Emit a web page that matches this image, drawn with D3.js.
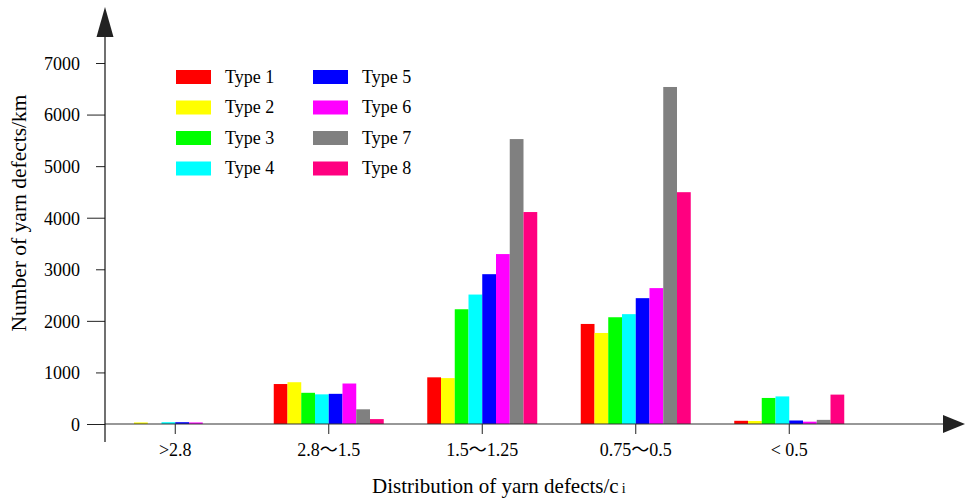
<!DOCTYPE html>
<html>
<head>
<meta charset="utf-8">
<script src="https://cdn.jsdelivr.net/npm/d3@7"></script>
<style>
body { margin: 0; background: #fff; }
svg text { font-family: "Liberation Serif", "Times New Roman", serif; fill: #000; }
</style>
</head>
<body>
<script>
// categories and series
var categories = [">2.8", "2.8\uFF5E1.5", "1.5\uFF5E1.25", "0.75\uFF5E0.5", "< 0.5"]
var types = ["Type 1", "Type 2", "Type 3", "Type 4", "Type 5", "Type 6", "Type 7", "Type 8"]
var colors = ["#ff0000", "#ffff00", "#00ff00", "#00ffff", "#0000ff", "#ff00ff", "#808080", "#ff0080"]

// values per type, one entry per category
var type1 = [0, 775, 905, 1940, 62]
var type2 = [30, 810, 890, 1765, 58]
var type3 = [0, 605, 2225, 2070, 505]
var type4 = [35, 575, 2510, 2130, 535]
var type5 = [35, 585, 2905, 2440, 68]
var type6 = [30, 785, 3295, 2635, 45]
var type7 = [0, 285, 5525, 6535, 80]
var type8 = [0, 95, 4110, 4495, 570]
var series = [type1, type2, type3, type4, type5, type6, type7, type8]

var yTicks = [0, 1000, 2000, 3000, 4000, 5000, 6000, 7000]

var W = 965, H = 500
var serif = "Liberation Serif, Times New Roman, serif"

var svg = d3.select("body").append("svg")
	.attr("width", W)
	.attr("height", H)

var x0 = 105, y0 = 424

var y = d3.scaleLinear().domain([0, 7000]).range([y0, 63])

var x = d3.scaleBand().domain(categories).range([98.5, 866]).paddingInner(0)

var xi = d3.scaleBand().domain(d3.range(types.length)).range([0, 110])

// bars
var groups = svg.append("g").selectAll("g")
	.data(categories)
	.enter().append("g")
	.attr("transform", function(d){ return "translate(" + (x(d) + x.bandwidth() / 2 - 55) + ",0)" })

groups.selectAll("rect")
	.data(function(d, ci){
		return series.map(function(s, ti){ return {ti: ti, v: s[ci]} })
	})
	.enter().append("rect")
	.attr("x", function(d){ return xi(d.ti) })
	.attr("width", xi.bandwidth())
	.attr("y", function(d){ return y(d.v) })
	.attr("height", function(d){ return y0 - y(d.v) })
	.style("fill", function(d){ return colors[d.ti] })

// y axis ticks, long for even thousands and short for odd
var yAxis = svg.append("g")
	.attr("transform", "translate(" + x0 + ",0)")
	.call(d3.axisLeft(y).tickValues(yTicks).tickSize(18).tickPadding(7).tickFormat(d3.format("d")))
	.attr("font-family", serif)
	.attr("font-size", 18)

yAxis.select(".domain").remove()
yAxis.selectAll(".tick line")
	.attr("x2", function(d){ return (d / 1000) % 2 ? -9 : -18 })
	.style("stroke", "#222")
yAxis.selectAll(".tick text")
	.attr("dy", "0.35em")

// x axis
var xAxis = svg.append("g")
	.attr("transform", "translate(0," + y0 + ")")
	.call(d3.axisBottom(x).tickSize(10).tickPadding(9))
	.attr("font-size", 18)

xAxis.select(".domain").remove()
xAxis.selectAll(".tick line").style("stroke", "#222")
xAxis.selectAll(".tick text")
	.style("font-family", "'Liberation Serif', 'Noto Sans CJK SC', serif")

// axis lines with arrow heads
svg.append("line")
	.attr("x1", x0).attr("y1", y0).attr("x2", 945).attr("y2", y0)
	.style("stroke", "#333").style("stroke-width", 1.2)
svg.append("line")
	.attr("x1", x0).attr("y1", 442).attr("x2", x0).attr("y2", 30)
	.style("stroke", "#111").style("stroke-width", 1.2)

svg.append("path")
	.attr("d", "M943," + (y0 - 9) + "L965," + y0 + "L943," + (y0 + 9) + "Z")
	.style("fill", "#222")
svg.append("path")
	.attr("d", "M" + (x0 - 8.5) + ",37L" + x0 + ",7L" + (x0 + 8.5) + ",37Z")
	.style("fill", "#222")

// axis titles
var xt = svg.append("text")
	.attr("x", 372).attr("y", 493)
	.style("font-size", "21px")
xt.append("tspan").text("Distribution of yarn defects/c")
xt.append("tspan").text("i").style("font-size", "14px").attr("dx", 3)

svg.append("text")
	.attr("transform", "translate(26,213) rotate(-90)")
	.attr("text-anchor", "middle")
	.style("font-size", "21.5px")
	.text("Number of yarn defects/km")

// legend
var legend = svg.append("g").selectAll("g")
	.data(types)
	.enter().append("g")
	.attr("transform", function(d, i){
		var col = Math.floor(i / 4), row = i % 4
		return "translate(" + (176 + col * 137) + "," + (70 + row * 30.5) + ")"
	})

legend.append("rect")
	.attr("width", 35).attr("height", 14)
	.style("fill", function(d, i){ return colors[i] })

legend.append("text")
	.attr("x", 49).attr("y", 12.5)
	.style("font-size", "18px")
	.text(function(d){ return d })
</script>
</body>
</html>
